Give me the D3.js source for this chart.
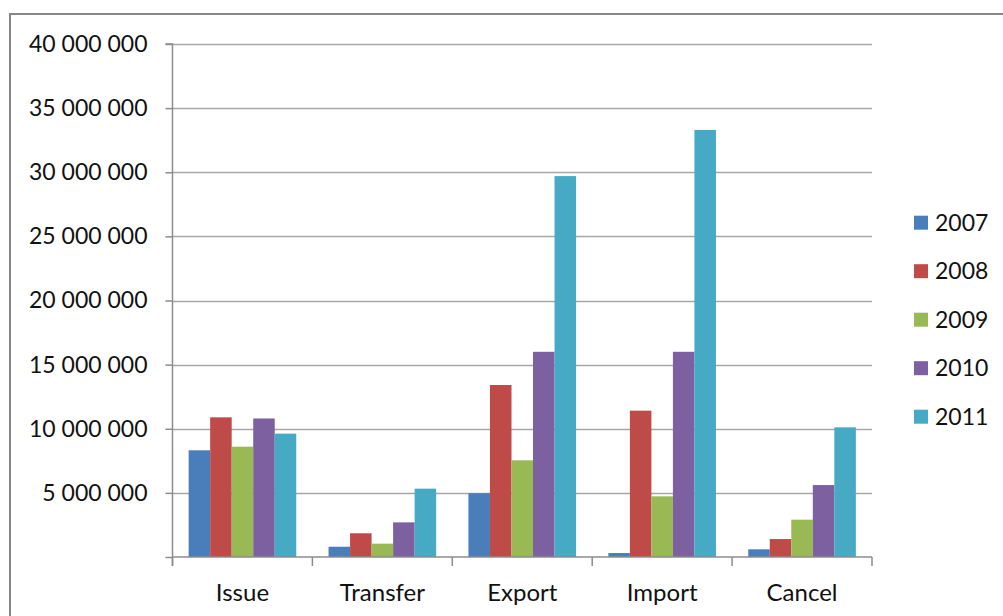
<!DOCTYPE html>
<html>
<head>
<meta charset="utf-8">
<script src="https://cdn.jsdelivr.net/npm/d3@7"></script>
<style>
  html, body { margin: 0; padding: 0; background: #fff; }
  svg { display: block; font-family: Lato, "Open Sans", sans-serif; }
</style>
</head>
<body>
<svg id="chart" width="1003" height="616"></svg>
<script>
const categories = ["Issue", "Transfer", "Export", "Import", "Cancel"];
const years = ["2007", "2008", "2009", "2010", "2011"];
const values2007 = [8320000, 800000, 4970000, 310000, 600000];
const values2008 = [10890000, 1850000, 13410000, 11410000, 1400000];
const values2009 = [8600000, 1040000, 7540000, 4730000, 2910000];
const values2010 = [10800000, 2700000, 16000000, 16000000, 5610000];
const values2011 = [9620000, 5330000, 29700000, 33300000, 10110000];
const seriesValues = [values2007, values2008, values2009, values2010, values2011];
const yTicks = [0, 5000000, 10000000, 15000000, 20000000, 25000000, 30000000, 35000000, 40000000];
const colors = ["#4a7ebb", "#be4b48", "#98b954", "#7d60a0", "#46aac5"];

const svg = d3.select("#chart");
const W = 1003, H = 616;
const plot = { left: 172.5, right: 872, top: 44, bottom: 557 };

// outer frame
svg.append("rect")
  .attr("x", 10).attr("y", 14)
  .attr("width", W).attr("height", H)
  .attr("fill", "#fff").attr("stroke", "#878787").attr("stroke-width", 2);

const y = d3.scaleLinear().domain([0, 40000000]).range([plot.bottom, plot.top]);
const x0 = d3.scaleBand().domain(categories).range([plot.left, plot.right]).padding(0);
const bw = x0.bandwidth();
const gap = bw * 1.5 / 6.5;
const x1 = d3.scaleBand().domain(years).range([gap / 2, bw - gap / 2]).padding(0);

const loc = d3.formatLocale({ decimal: ",", thousands: " ", grouping: [3], currency: ["", ""] });
const fmt = loc.format(",d");

// gridlines
svg.append("g").selectAll("line").data(yTicks.filter(d => d > 0)).join("line")
  .attr("x1", plot.left).attr("x2", plot.right)
  .attr("y1", d => Math.round(y(d)) + 0.5).attr("y2", d => Math.round(y(d)) + 0.5)
  .attr("stroke", "#a6a6a6").attr("stroke-width", 1.5);

// bars
const groups = svg.append("g").selectAll("g").data(years).join("g")
  .attr("fill", (d, i) => colors[i]);
groups.selectAll("rect").data((yr, si) => categories.map((c, ci) => ({ c, yr, v: seriesValues[si][ci] })))
  .join("rect")
  .attr("x", d => x0(d.c) + x1(d.yr))
  .attr("width", x1.bandwidth())
  .attr("y", d => y(d.v))
  .attr("height", d => y(0) - y(d.v));

// y axis
const yAxis = d3.axisLeft(y).tickValues(yTicks).tickSize(7).tickPadding(18)
  .tickFormat(d => d === 0 ? "" : fmt(d));
const gy = svg.append("g").attr("transform", `translate(${plot.left},0)`).call(yAxis);
gy.select(".domain").attr("stroke", "#8c8c8c").attr("stroke-width", 1.5)
  .attr("d", `M-7,${plot.top}H0V${plot.bottom + 9}`);
gy.selectAll(".tick line").attr("stroke", "#8c8c8c").attr("stroke-width", 1.5);
gy.selectAll(".tick text").attr("fill", "#111").attr("font-size", 23)
  .attr("font-family", "Lato, 'Open Sans', sans-serif");

// x axis
const xAxis = d3.axisBottom(x0).tickSize(0).tickPadding(27);
const gx = svg.append("g").attr("transform", `translate(0,${plot.bottom})`).call(xAxis);
gx.select(".domain").attr("stroke", "#8c8c8c").attr("stroke-width", 1.5)
  .attr("d", `M${plot.left},0H${plot.right}`);
gx.selectAll(".tick text").attr("fill", "#111").attr("font-size", 24)
  .attr("font-family", "Lato, 'Open Sans', sans-serif");
// category boundary ticks
const bounds = categories.map(c => x0(c)).concat([plot.right]);
gx.append("g").selectAll("line").data(bounds).join("line")
  .attr("x1", d => d).attr("x2", d => d).attr("y1", 0).attr("y2", 9)
  .attr("stroke", "#8c8c8c").attr("stroke-width", 1.5);

// legend
const legend = svg.append("g").selectAll("g").data(years).join("g")
  .attr("transform", (d, i) => `translate(914,${222.7 + i * 48.5})`);
legend.append("rect").attr("x", 0).attr("y", -7).attr("width", 14).attr("height", 14)
  .attr("fill", (d, i) => colors[i]);
legend.append("text").attr("x", 21).attr("y", 0).attr("dy", "0.36em")
  .attr("font-size", 23).attr("fill", "#111").text(d => d);
</script>
</body>
</html>
